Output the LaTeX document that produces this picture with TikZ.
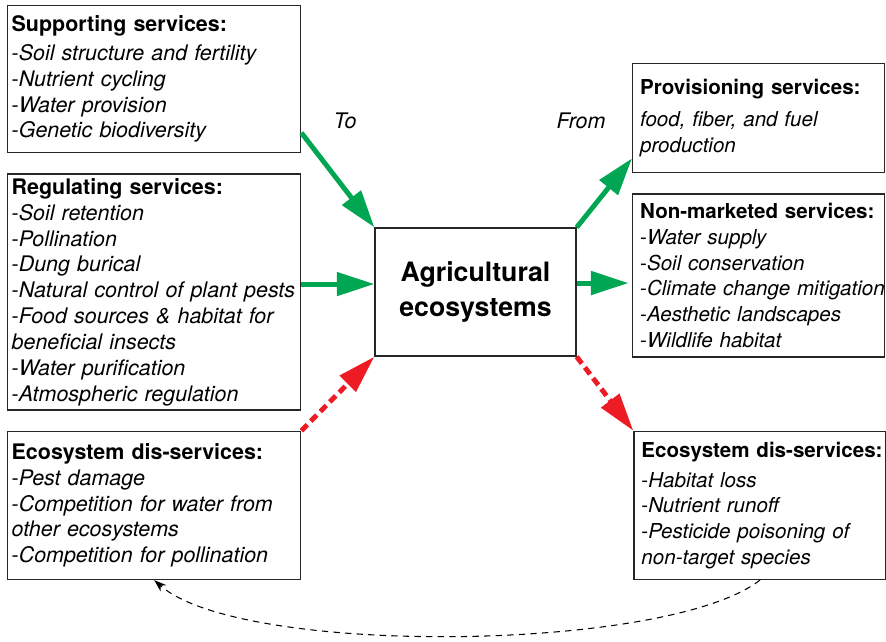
\documentclass[tikz,border=0pt]{standalone}
\usepackage{fontspec}
\setmainfont{TeX Gyre Heros}
\usepackage{tikz}
\usetikzlibrary{arrows.meta, positioning, calc}
\usepackage{xcolor}
\definecolor{svcgreen}{RGB}{0,166,81}
\definecolor{svcred}{RGB}{237,28,36}
\newcommand{\boxfont}{\fontsize{12.2}{14.7}\selectfont}
\newcommand{\rboxfont}{\fontsize{11.7}{14.7}\selectfont}
\tikzstyle{svc} = [rectangle, draw=black!85, line width=0.8pt, align=left, inner ysep=2pt, font=\boxfont]
\tikzstyle{lsvc} = [svc, inner xsep=0.08cm, text width=5.70cm, minimum width=5.86cm]
\tikzstyle{rsvc} = [svc, font=\rboxfont, inner xsep=0.15cm, text width=4.74cm, minimum width=5.04cm]
\tikzstyle{core} = [rectangle, draw=black!85, line width=0.8pt, minimum width=4.02cm, minimum height=2.56cm, align=center, font=\fontsize{15.2}{19.5}\selectfont\bfseries]
\tikzstyle{good} = [line width=2.8pt, svcgreen, -{Triangle[length=0.75cm, width=0.46cm]}]
\tikzstyle{bad} = [line width=2.8pt, svcred, dash pattern=on 0.17cm off 0.1cm, -{Triangle[length=0.76cm, width=0.44cm]}]
\tikzstyle{feedback} = [line width=0.6pt, dash pattern=on 3.6pt off 3pt, -{Stealth[length=0.25cm, width=0.17cm]}]

\begin{document}
\begin{tikzpicture}[x=0.02cm, y=-0.02cm]
  \useasboundingbox (0,0) rectangle (886,642);

  % inputs to the farm
  \node[lsvc, minimum height=2.94cm, anchor=north west] (supp) at (7,5)
    {\textbf{Supporting services:}\\[0.06cm]-\textit{Soil structure and fertility}\\-\textit{Nutrient cycling}\\-\textit{Water provision}\\-\textit{Genetic biodiversity}};
  \node[lsvc, minimum height=4.72cm, below=0.4cm of supp] (reg)
    {\textbf{Regulating services:}\\-\textit{Soil retention}\\-\textit{Pollination}\\-\textit{Dung burical}\\\mbox{-\textit{Natural control of plant pests}}\\-\textit{Food sources \& habitat for}\\\textit{beneficial insects}\\-\textit{Water purification}\\-\textit{Atmospheric regulation}};
  \node[lsvc, minimum height=2.96cm, below=0.4cm of reg] (ldis)
    {\textbf{Ecosystem dis-services:}\\-\textit{Pest damage}\\-\textit{Competition for water from}\\\textit{other ecosystems}\\-\textit{Competition for pollination}};

  \node[core, right=1.46cm of reg] (agri) {Agricultural\\ecosystems};

  % outputs of the farm
  \node[rsvc, minimum height=2.18cm, anchor=north west] (prov) at (632,63)
    {\mbox{\textbf{Provisioning services:}}\\[0.12cm]\textit{food, fiber, and fuel}\\\textit{production}};
  \node[rsvc, minimum height=3.26cm, below=0.4cm of prov] (nonm)
    {\mbox{\textbf{Non-marketed services:}}\\-\textit{Water supply}\\-\textit{Soil conservation}\\\mbox{-\textit{Climate change mitigation}}\\-\textit{Aesthetic landscapes}\\-\textit{Wildlife habitat}};
  \node[rsvc, minimum height=2.96cm, right=6.64cm of ldis] (rdis)
    {\mbox{\textbf{Ecosystem dis-services:}}\\[0.08cm]-\textit{Habitat loss}\\-\textit{Nutrient runoff}\\\mbox{-\textit{Pesticide poisoning of}}\\\textit{non-target species}};

  \node[font=\boxfont\itshape] (to) at (345,121) {To};
  \node[font=\boxfont\itshape] (from) at (581,121) {From};

  \coordinate (inlet) at ([yshift=0.16cm]agri.west);
  \coordinate (outlet) at ([yshift=0.18cm]agri.east);

  \draw[good] (supp.-20) -- (agri.north west);
  \draw[good] (inlet -| reg.east) -- (inlet);
  \draw[bad] (ldis.north east) -- (agri.south west);
  \draw[good] (agri.north east) -- ([yshift=0.3cm]prov.south west);
  \draw[good, shorten >=2pt] (outlet) -- (outlet -| nonm.west);
  \draw[bad] (agri.south east) -- (rdis.north west);

  \draw[feedback] (rdis.south) .. controls +(-1.84cm,-1.44cm) and +(1.74cm,-1.54cm) .. (ldis.south);
\end{tikzpicture}
\end{document}
